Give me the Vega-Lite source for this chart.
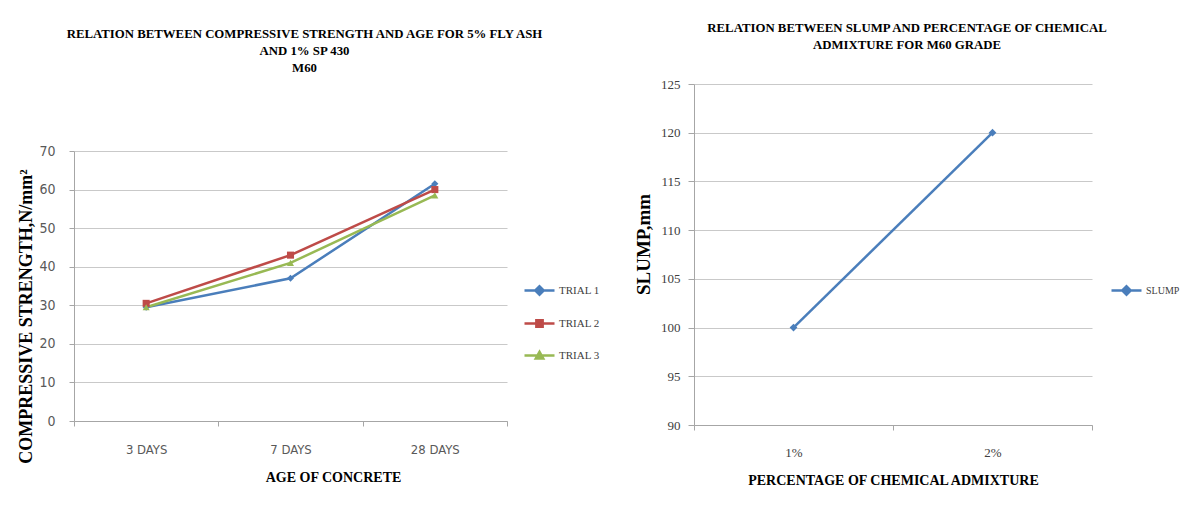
{
  "$schema": "https://vega.github.io/schema/vega-lite/v6.json",
  "background": "white",
  "padding": {"left": 17, "top": 22, "right": 0, "bottom": 0},
  "spacing": 34,
  "config": {
    "view": {"stroke": null},
    "axis": {
      "labelColor": "#595959",
      "titleFont": "Liberation Serif",
      "titleFontWeight": "bold",
      "titleColor": "#000000",
      "domainColor": "#A6A6A6",
      "tickColor": "#A6A6A6",
      "gridColor": "#C9C9C9"
    },
    "title": {"font": "Liberation Serif", "fontWeight": "bold", "fontSize": 12.8, "color": "#000000", "lineHeight": 17},
    "legend": {"padding": 0}
  },
  "hconcat": [
    {
      "width": 433,
      "height": 337,
      "title": {
        "text": ["RELATION BETWEEN COMPRESSIVE STRENGTH AND AGE FOR 5% FLY ASH", "AND 1% SP 430", "M60"],
        "offset": 9,
        "dx": 14
      },
      "data": {
        "values": [
          {"age": "3 DAYS", "trial": "TRIAL 1", "strength": 29.5},
          {"age": "7 DAYS", "trial": "TRIAL 1", "strength": 37},
          {"age": "28 DAYS", "trial": "TRIAL 1", "strength": 61.5},
          {"age": "3 DAYS", "trial": "TRIAL 2", "strength": 30.5},
          {"age": "7 DAYS", "trial": "TRIAL 2", "strength": 43},
          {"age": "28 DAYS", "trial": "TRIAL 2", "strength": 60},
          {"age": "3 DAYS", "trial": "TRIAL 3", "strength": 29.5},
          {"age": "7 DAYS", "trial": "TRIAL 3", "strength": 41},
          {"age": "28 DAYS", "trial": "TRIAL 3", "strength": 58.5}
        ]
      },
      "encoding": {
        "x": {
          "field": "age", "type": "nominal", "sort": ["3 DAYS", "7 DAYS", "28 DAYS"],
          "bandPosition": 0.5,
          "scale": {"type": "band", "paddingInner": 0, "paddingOuter": 0},
          "axis": {
            "title": "AGE OF CONCRETE", "titleFontSize": 14, "titlePadding": 14, "titleX": 259,
            "labelAngle": 0, "labelPadding": 17, "tickSize": 5, "tickBand": "extent", "grid": false,
            "labelFont": "Liberation Sans Narrow, DejaVu Sans Condensed, sans-serif", "labelFontSize": 13
          }
        },
        "y": {
          "field": "strength", "type": "quantitative",
          "scale": {"domain": [0, 70], "range": [337, 67], "nice": false, "zero": true},
          "axis": {
            "values": [0, 10, 20, 30, 40, 50, 60, 70],
            "title": "COMPRESSIVE STRENGTH,N/mm²", "titleFontSize": 18, "titlePadding": 3, "titleY": 232,
            "labelPadding": 14, "tickSize": 5, "grid": true,
            "labelFont": "Liberation Sans Narrow, DejaVu Sans Condensed, sans-serif", "labelFontSize": 14
          }
        },
        "color": {
          "field": "trial", "type": "nominal",
          "scale": {"domain": ["TRIAL 1", "TRIAL 2", "TRIAL 3"], "range": ["#4A7EBB", "#BE4B48", "#98B954"]},
          "legend": {
            "orient": "none", "legendX": 449, "legendY": 190, "title": null,
            "labelFont": "Liberation Serif", "labelFontSize": 11, "labelColor": "#404040",
            "symbolSize": 900, "symbolStrokeWidth": 2.5, "rowPadding": 7, "labelOffset": 3,
            "encode": {
              "symbols": {
                "update": {
                  "shape": {"signal": "datum.value === 'TRIAL 1' ? 'M-1,0H1M-0.28,0L0,-0.28L0.28,0L0,0.28Z' : datum.value === 'TRIAL 2' ? 'M-1,0H1M-0.21,-0.21H0.21V0.21H-0.21Z' : 'M-1,0H1M-0.25,0.2L0,-0.25L0.25,0.2Z'"},
                  "fill": {"signal": "datum.value === 'TRIAL 1' ? '#4A7EBB' : datum.value === 'TRIAL 2' ? '#BE4B48' : '#98B954'"},
                  "stroke": {"signal": "datum.value === 'TRIAL 1' ? '#4A7EBB' : datum.value === 'TRIAL 2' ? '#BE4B48' : '#98B954'"},
                  "opacity": {"value": 1},
                  "strokeWidth": {"value": 2.5}
                }
              }
            }
          }
        }
      },
      "layer": [
        {"mark": {"type": "line", "strokeWidth": 2.5}},
        {
          "mark": {"type": "point", "filled": true, "size": 50, "opacity": 1},
          "encoding": {
            "shape": {
              "field": "trial", "type": "nominal",
              "scale": {"domain": ["TRIAL 1", "TRIAL 2", "TRIAL 3"], "range": ["diamond", "square", "triangle-up"]},
              "legend": null
            }
          }
        }
      ]
    },
    {
      "width": 398,
      "height": 341,
      "title": {
        "text": ["RELATION BETWEEN SLUMP AND PERCENTAGE OF CHEMICAL", "ADMIXTURE FOR M60 GRADE"],
        "offset": 26,
        "dx": 14
      },
      "data": {
        "values": [
          {"pct": "1%", "series": "SLUMP", "slump": 100},
          {"pct": "2%", "series": "SLUMP", "slump": 120}
        ]
      },
      "encoding": {
        "x": {
          "field": "pct", "type": "nominal", "sort": ["1%", "2%"],
          "bandPosition": 0.5,
          "scale": {"type": "band", "paddingInner": 0, "paddingOuter": 0},
          "axis": {
            "title": "PERCENTAGE OF CHEMICAL ADMIXTURE", "titleFontSize": 14, "titlePadding": 14,
            "labelAngle": 0, "labelPadding": 16, "tickSize": 5, "tickBand": "extent", "grid": false,
            "labelFont": "Liberation Serif", "labelFontSize": 13, "labelColor": "#404040"
          }
        },
        "y": {
          "field": "slump", "type": "quantitative",
          "scale": {"domain": [90, 125], "nice": false, "zero": false},
          "axis": {
            "values": [90, 95, 100, 105, 110, 115, 120, 125],
            "title": "SLUMP,mm", "titleFontSize": 19, "titlePadding": 7, "titleY": 160,
            "labelPadding": 8, "tickSize": 6, "grid": true,
            "labelFont": "Liberation Serif", "labelFontSize": 13, "labelColor": "#404040"
          }
        },
        "color": {
          "field": "series", "type": "nominal",
          "scale": {"domain": ["SLUMP"], "range": ["#4A7EBB"]},
          "legend": {
            "orient": "none", "legendX": 416, "legendY": 190, "title": null,
            "labelFont": "Liberation Serif", "labelFontSize": 10, "labelColor": "#404040",
            "symbolSize": 900, "symbolStrokeWidth": 2.5, "labelOffset": 3,
            "encode": {
              "symbols": {
                "update": {
                  "shape": {"value": "M-1,0H1M-0.28,0L0,-0.28L0.28,0L0,0.28Z"},
                  "fill": {"value": "#4A7EBB"},
                  "stroke": {"value": "#4A7EBB"},
                  "opacity": {"value": 1},
                  "strokeWidth": {"value": 2.5}
                }
              }
            }
          }
        }
      },
      "layer": [
        {"mark": {"type": "line", "strokeWidth": 2.5}},
        {"mark": {"type": "point", "filled": true, "shape": "diamond", "size": 60, "opacity": 1}}
      ]
    }
  ],
  "resolve": {"scale": {"color": "independent"}, "legend": {"color": "independent"}}
}
